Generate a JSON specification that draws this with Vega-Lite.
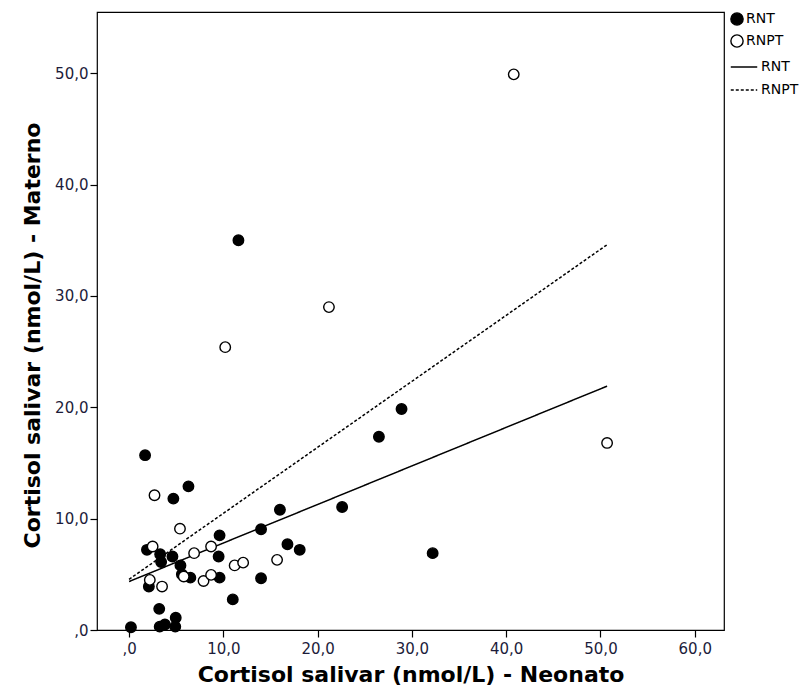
{
  "$schema": "https://vega.github.io/schema/vega-lite/v6.json",
  "autosize": "none",
  "width": 627,
  "height": 618,
  "padding": {"left": 97, "top": 12, "right": 84, "bottom": 63},
  "background": "white",
  "config": {
    "view": {"stroke": "black", "strokeWidth": 1.2},
    "font": "DejaVu Sans",
    "axis": {
      "grid": false,
      "domain": false,
      "tickColor": "black",
      "tickSize": 7,
      "tickWidth": 1.2,
      "labelFont": "DejaVu Sans",
      "labelFontSize": 15,
      "labelColor": "#1c1c3a",
      "titleFont": "DejaVu Sans",
      "titleFontSize": 22,
      "titleFontWeight": "bold",
      "titleColor": "black"
    }
  },
  "datasets": {
    "pts": [
      {"neonato": 0.2, "materno": 0.25, "grupo": "RNT"},
      {"neonato": 1.7, "materno": 15.7, "grupo": "RNT"},
      {"neonato": 4.7, "materno": 11.8, "grupo": "RNT"},
      {"neonato": 6.3, "materno": 12.9, "grupo": "RNT"},
      {"neonato": 9.6, "materno": 8.5, "grupo": "RNT"},
      {"neonato": 1.9, "materno": 7.2, "grupo": "RNT"},
      {"neonato": 3.3, "materno": 6.8, "grupo": "RNT"},
      {"neonato": 3.4, "materno": 6.1, "grupo": "RNT"},
      {"neonato": 4.6, "materno": 6.6, "grupo": "RNT"},
      {"neonato": 9.5, "materno": 6.6, "grupo": "RNT"},
      {"neonato": 5.45, "materno": 5.8, "grupo": "RNT"},
      {"neonato": 5.6, "materno": 5.0, "grupo": "RNT"},
      {"neonato": 6.5, "materno": 4.7, "grupo": "RNT"},
      {"neonato": 9.6, "materno": 4.7, "grupo": "RNT"},
      {"neonato": 2.1, "materno": 3.9, "grupo": "RNT"},
      {"neonato": 3.2, "materno": 1.9, "grupo": "RNT"},
      {"neonato": 4.95, "materno": 1.1, "grupo": "RNT"},
      {"neonato": 3.25, "materno": 0.3, "grupo": "RNT"},
      {"neonato": 3.8, "materno": 0.5, "grupo": "RNT"},
      {"neonato": 4.9, "materno": 0.3, "grupo": "RNT"},
      {"neonato": 11.0, "materno": 2.75, "grupo": "RNT"},
      {"neonato": 11.6, "materno": 35.0, "grupo": "RNT"},
      {"neonato": 14.0, "materno": 9.05, "grupo": "RNT"},
      {"neonato": 14.0, "materno": 4.65, "grupo": "RNT"},
      {"neonato": 16.0, "materno": 10.8, "grupo": "RNT"},
      {"neonato": 16.8, "materno": 7.7, "grupo": "RNT"},
      {"neonato": 18.1, "materno": 7.2, "grupo": "RNT"},
      {"neonato": 22.6, "materno": 11.05, "grupo": "RNT"},
      {"neonato": 26.5, "materno": 17.35, "grupo": "RNT"},
      {"neonato": 28.9, "materno": 19.85, "grupo": "RNT"},
      {"neonato": 32.2, "materno": 6.9, "grupo": "RNT"},
      {"neonato": 2.7, "materno": 12.1, "grupo": "RNPT"},
      {"neonato": 5.4, "materno": 9.1, "grupo": "RNPT"},
      {"neonato": 2.5, "materno": 7.5, "grupo": "RNPT"},
      {"neonato": 6.9, "materno": 6.9, "grupo": "RNPT"},
      {"neonato": 8.7, "materno": 7.5, "grupo": "RNPT"},
      {"neonato": 2.2, "materno": 4.5, "grupo": "RNPT"},
      {"neonato": 3.5, "materno": 3.9, "grupo": "RNPT"},
      {"neonato": 5.8, "materno": 4.8, "grupo": "RNPT"},
      {"neonato": 7.9, "materno": 4.4, "grupo": "RNPT"},
      {"neonato": 8.7, "materno": 4.95, "grupo": "RNPT"},
      {"neonato": 11.2, "materno": 5.8, "grupo": "RNPT"},
      {"neonato": 12.1, "materno": 6.05, "grupo": "RNPT"},
      {"neonato": 15.7, "materno": 6.3, "grupo": "RNPT"},
      {"neonato": 10.2, "materno": 25.4, "grupo": "RNPT"},
      {"neonato": 21.2, "materno": 29.0, "grupo": "RNPT"},
      {"neonato": 40.8, "materno": 49.9, "grupo": "RNPT"},
      {"neonato": 50.7, "materno": 16.8, "grupo": "RNPT"}
    ],
    "fits": [
      {"neonato": 0.0, "materno": 4.35, "ajuste": "RNT"},
      {"neonato": 50.7, "materno": 21.9, "ajuste": "RNT"},
      {"neonato": 0.0, "materno": 4.55, "ajuste": "RNPT"},
      {"neonato": 50.7, "materno": 34.6, "ajuste": "RNPT"}
    ]
  },
  "encoding": {
    "x": {
      "field": "neonato",
      "type": "quantitative",
      "scale": {"domain": [-3.4, 63.1], "nice": false, "zero": false},
      "axis": {
        "values": [0, 10, 20, 30, 40, 50, 60],
        "labelExpr": "datum.value == 0 ? ',0' : replace(format(datum.value, '.1f'), '.', ',')",
        "labelPadding": 4,
        "title": "Cortisol salivar (nmol/L) - Neonato",
        "titlePadding": 8
      }
    },
    "y": {
      "field": "materno",
      "type": "quantitative",
      "scale": {"domain": [0, 55.5], "nice": false, "zero": false},
      "axis": {
        "values": [0, 10, 20, 30, 40, 50],
        "labelExpr": "datum.value == 0 ? ',0' : replace(format(datum.value, '.1f'), '.', ',')",
        "labelPadding": 2,
        "title": "Cortisol salivar (nmol/L) - Materno",
        "titlePadding": 10,
        "titleY": 323
      }
    }
  },
  "layer": [
    {
      "data": {"name": "fits"},
      "mark": {"type": "line", "color": "black", "strokeWidth": 1.5},
      "encoding": {
        "detail": {"field": "ajuste"},
        "strokeDash": {
          "field": "ajuste",
          "type": "nominal",
          "sort": ["RNT", "RNPT"],
          "scale": {"range": [[1, 0], [3, 2]]},
          "legend": {
            "orient": "none",
            "legendX": 633,
            "legendY": 41,
            "title": null,
            "symbolType": "stroke",
            "symbolStrokeColor": "black",
            "symbolStrokeWidth": 1.3,
            "symbolSize": 700,
            "labelFont": "DejaVu Sans",
            "labelFontSize": 14,
            "labelColor": "black",
            "rowPadding": 2,
            "labelOffset": 3
          }
        }
      }
    },
    {
      "data": {"name": "pts"},
      "mark": {"type": "point", "filled": false, "shape": "circle", "stroke": "black", "strokeWidth": 1.4, "opacity": 1, "size": 110},
      "encoding": {
        "fill": {
          "field": "grupo",
          "type": "nominal",
          "scale": {"domain": ["RNT", "RNPT"], "range": ["black", "white"]},
          "legend": {
            "orient": "none",
            "legendX": 633,
            "legendY": 0,
            "title": null,
            "symbolType": "circle",
            "symbolStrokeColor": "black",
            "symbolStrokeWidth": 1.4,
            "symbolSize": 150,
            "labelFont": "DejaVu Sans",
            "labelFontSize": 14,
            "labelColor": "black",
            "rowPadding": 4,
            "labelOffset": 2
          }
        }
      }
    }
  ]
}
